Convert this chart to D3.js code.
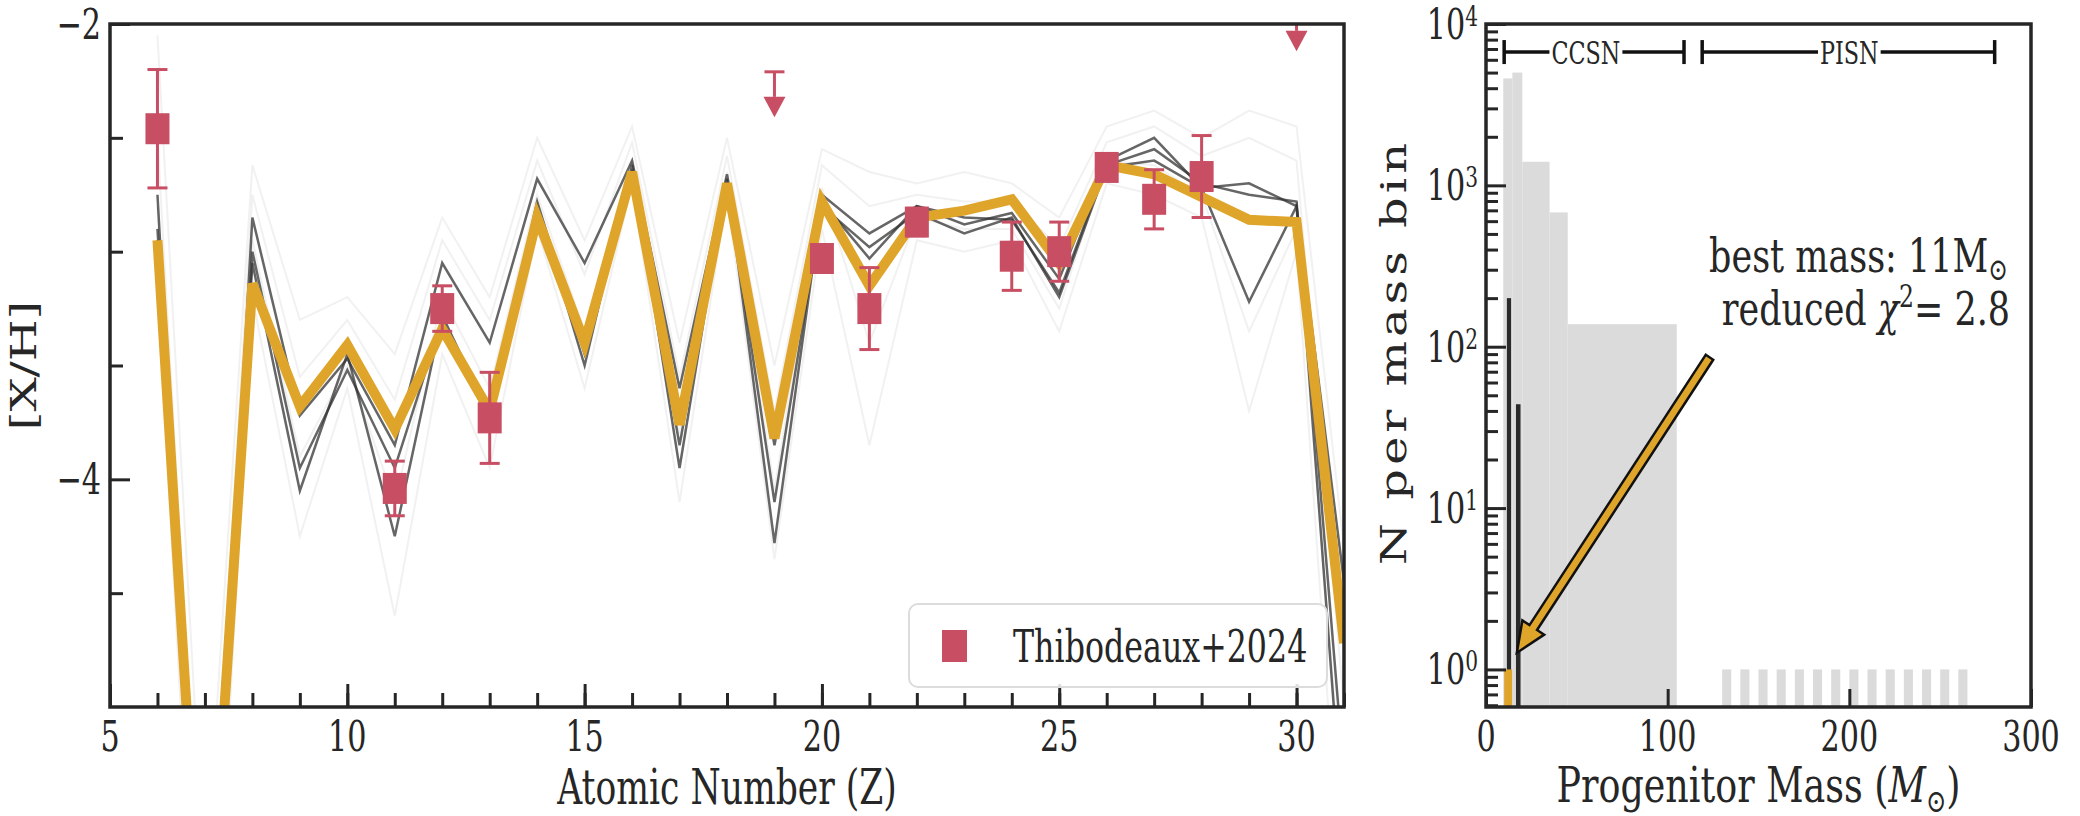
<!DOCTYPE html>
<html>
<head>
<meta charset="utf-8">
<script src="https://cdn.jsdelivr.net/npm/d3@7/dist/d3.min.js"></script>
<style>
  html, body { margin: 0; padding: 0; background: #fff; }
  svg text { font-family: 'DejaVu Serif', serif; fill: #262626; }
</style>
</head>
<body>
<svg id="chart" width="2080" height="816"></svg>
<script>
// ---- left panel: abundance pattern ----
const atomicZ = [6, 7, 8, 9, 10, 11, 12, 13, 14, 15, 16, 17, 18, 19, 20, 21, 22, 23, 24, 25, 26, 27, 28, 29, 30, 31];
const bestFit = [-2.95, -6.3, -3.14, -3.68, -3.41, -3.78, -3.34, -3.70, -2.85, -3.40, -2.65, -3.76, -2.70, -3.82, -2.78, -3.15, -2.85, -2.82, -2.77, -3.05, -2.62, -2.66, -2.76, -2.86, -2.87, -4.72];

// darker model tracks
const modelDarkA = [-2.75, -6.5, -2.85, -3.72, -3.47, -3.85, -3.05, -3.40, -2.68, -3.05, -2.60, -3.60, -2.66, -3.85, -2.75, -2.92, -2.80, -2.88, -2.83, -3.12, -2.60, -2.50, -2.72, -2.70, -2.80, -4.45];
const modelDarkB = [-2.95, -6.6, -3.00, -3.95, -3.52, -3.95, -3.30, -3.75, -2.80, -3.50, -2.62, -3.95, -2.68, -4.28, -2.78, -3.03, -2.80, -2.85, -2.86, -3.18, -2.62, -2.55, -2.70, -2.75, -2.78, -5.3];
const modelDarkC = [-2.90, -6.4, -3.05, -4.05, -3.45, -4.25, -3.28, -3.72, -2.78, -3.45, -2.64, -3.85, -2.70, -4.10, -2.80, -2.98, -2.83, -2.92, -2.85, -3.20, -2.63, -2.60, -2.72, -3.22, -2.80, -5.6];
// faint model tracks
const modelFaintHigh = [-2.05, -5.8, -2.62, -3.30, -3.20, -3.45, -2.85, -3.20, -2.50, -2.95, -2.45, -3.40, -2.50, -3.50, -2.55, -2.65, -2.70, -2.65, -2.70, -2.85, -2.45, -2.38, -2.50, -2.38, -2.45, -4.3];
const modelFaintMid1 = [-2.50, -6.2, -2.75, -3.55, -3.30, -3.65, -2.95, -3.30, -2.60, -3.10, -2.52, -3.55, -2.58, -3.70, -2.62, -2.80, -2.75, -2.78, -2.78, -2.98, -2.52, -2.45, -2.58, -2.50, -2.60, -5.0];
const modelFaintMid2 = [-2.80, -6.6, -2.95, -3.90, -3.50, -4.10, -3.20, -3.60, -2.75, -3.35, -2.60, -3.80, -2.65, -4.05, -2.72, -3.40, -2.85, -2.90, -2.90, -3.25, -2.60, -2.62, -2.75, -3.35, -2.90, -5.5];
const modelFaintLow = [-3.10, -7.0, -3.20, -4.25, -3.60, -4.60, -3.45, -3.95, -2.90, -3.60, -2.70, -4.10, -2.75, -4.35, -2.90, -3.85, -2.95, -3.00, -2.95, -3.35, -2.70, -2.75, -2.85, -3.70, -3.00, -6.0];

// Thibodeaux+2024 measurements
const obsZ = [6, 11, 12, 13, 20, 21, 22, 24, 25, 26, 27, 28];
const obsXH = [-2.46, -4.04, -3.25, -3.73, -3.03, -3.25, -2.87, -3.02, -3.00, -2.63, -2.77, -2.67];
const obsErr = [0.26, 0.12, 0.10, 0.20, 0.06, 0.18, 0.06, 0.15, 0.13, 0.02, 0.13, 0.18];
const limZ = [19, 30];
const limXH = [-2.21, -1.92];

const zTicks = [5, 10, 15, 20, 25, 30];
const xhTicks = [-2, -4];

// ---- right panel: progenitor mass histogram ----
const allMassLo = [9.5, 14.5, 20, 35, 45];
const allMassHi = [14.5, 20, 35, 45, 105];
const allMassN = [4600, 5000, 1400, 680, 138];
const pisnLo = [130, 140, 150, 160, 170, 180, 190, 200, 210, 220, 230, 240, 250, 260];
const pisnN = [1, 1, 1, 1, 1, 1, 1, 1, 1, 1, 1, 1, 1, 1];
const goodLo = [11.5, 16.5];
const goodHi = [13.8, 19];
const goodN = [200, 44];
const bestLo = [10];
const bestHi = [14.4];
const bestN = [1];
const massTicks = [0, 100, 200, 300];
const nTicks = [1, 10, 100, 1000, 10000];
const ranges = [
  { name: 'CCSN', lo: 10, hi: 109, at: 55 },
  { name: 'PISN', lo: 119, hi: 280, at: 200 }
];

const SX = 0.72;          // horizontal squeeze of the original figure
const orange = '#dfa52a';
const rose = '#c84e63';
const ink = '#262626';

const svg = d3.select('#chart');

function hText(g, x, y, anchor, size, sx = SX) {
  return g.append('text')
    .attr('transform', `translate(${x},${y}) scale(${sx},1)`)
    .attr('text-anchor', anchor)
    .style('font-size', size + 'px');
}
function vText(g, x, y, size) {
  return g.append('text')
    .attr('transform', `translate(${x},${y}) rotate(-90) scale(1,${SX})`)
    .attr('text-anchor', 'middle')
    .style('font-size', size + 'px');
}

// ================= LEFT PANEL =================
const L = { left: 110, right: 1344, top: 24, bottom: 707 };
const xL = d3.scaleLinear().domain([5, 31]).range([L.left, L.right]);
const yL = d3.scaleLinear().domain([-5, -2]).range([L.bottom, L.top]);

svg.append('clipPath').attr('id', 'clipL').append('rect')
  .attr('x', L.left).attr('y', L.top).attr('width', L.right - L.left).attr('height', L.bottom - L.top);

const gL = svg.append('g');
const plotL = gL.append('g').attr('clip-path', 'url(#clipL)');

const line = d3.line().x((d, i) => xL(atomicZ[i])).y(d => yL(d));

const faint = [modelFaintHigh, modelFaintMid1, modelFaintMid2, modelFaintLow];
faint.forEach(s => plotL.append('path').attr('d', line(s))
  .attr('fill', 'none').attr('stroke', '#999').attr('stroke-opacity', 0.14).attr('stroke-width', 2));
const dark = [modelDarkA, modelDarkB, modelDarkC];
dark.forEach(s => plotL.append('path').attr('d', line(s))
  .attr('fill', 'none').attr('stroke', '#333').attr('stroke-opacity', 0.75).attr('stroke-width', 2.5));

plotL.append('path').attr('d', line(bestFit))
  .attr('fill', 'none').attr('stroke', orange).attr('stroke-width', 10).attr('stroke-linejoin', 'miter');

// error bars + squares
const capW = 20, sqW = 24, sqH = 31;
obsZ.forEach((z, i) => {
  const cx = xL(z), y0 = yL(obsXH[i] + obsErr[i]), y1 = yL(obsXH[i] - obsErr[i]);
  const g = plotL.append('g').attr('stroke', rose).attr('stroke-width', 3);
  g.append('line').attr('x1', cx).attr('x2', cx).attr('y1', y0).attr('y2', y1);
  g.append('line').attr('x1', cx - capW / 2).attr('x2', cx + capW / 2).attr('y1', y0).attr('y2', y0);
  g.append('line').attr('x1', cx - capW / 2).attr('x2', cx + capW / 2).attr('y1', y1).attr('y2', y1);
  plotL.append('rect').attr('x', cx - sqW / 2).attr('y', yL(obsXH[i]) - sqH / 2)
    .attr('width', sqW).attr('height', sqH).attr('fill', rose);
});
// upper limits
limZ.forEach((z, i) => {
  const cx = xL(z), yc = yL(limXH[i]), yt = yL(limXH[i] - 0.11), yb = yL(limXH[i] - 0.2);
  const g = plotL.append('g').attr('stroke', rose).attr('stroke-width', 3);
  g.append('line').attr('x1', cx - capW / 2).attr('x2', cx + capW / 2).attr('y1', yc).attr('y2', yc);
  g.append('line').attr('x1', cx).attr('x2', cx).attr('y1', yc).attr('y2', yt);
  plotL.append('path').attr('d', `M${cx - 11},${yt}L${cx + 11},${yt}L${cx},${yb}Z`).attr('fill', rose);
});

// ticks (inward)
const tickStyle = sel => sel.selectAll('line').attr('stroke', ink).attr('stroke-width', 3);
gL.append('g').attr('transform', `translate(0,${L.bottom})`)
  .call(d3.axisBottom(xL).tickValues(d3.range(5, 32)).tickSize(-14).tickFormat(''))
  .call(tickStyle).select('.domain').remove();
gL.append('g').attr('transform', `translate(0,${L.bottom})`)
  .call(d3.axisBottom(xL).tickValues(zTicks).tickSize(-23).tickFormat(''))
  .call(tickStyle).select('.domain').remove();
gL.append('g').attr('transform', `translate(${L.left},0)`)
  .call(d3.axisLeft(yL).tickValues([-2.5, -3, -3.5, -4.5]).tickSize(-13).tickFormat(''))
  .call(tickStyle).select('.domain').remove();
gL.append('g').attr('transform', `translate(${L.left},0)`)
  .call(d3.axisLeft(yL).tickValues(xhTicks).tickSize(-20).tickFormat(''))
  .call(tickStyle).select('.domain').remove();

zTicks.forEach(t => hText(gL, xL(t), 751, 'middle', 42).text(t));
xhTicks.forEach(t => hText(gL, L.left - 9, yL(t) + 15, 'end', 42).text('\u2212' + Math.abs(t)));

gL.append('rect').attr('x', L.left).attr('y', L.top).attr('width', L.right - L.left).attr('height', L.bottom - L.top)
  .attr('fill', 'none').attr('stroke', ink).attr('stroke-width', 3.5);

hText(gL, (L.left + L.right) / 2, 804, 'middle', 48).text('Atomic Number (Z)');
vText(gL, 36, (L.top + L.bottom) / 2, 48).text('[X/H]');

// legend
const leg = gL.append('g');
leg.append('rect').attr('x', 909).attr('y', 604).attr('width', 418).attr('height', 83).attr('rx', 9)
  .attr('fill', '#fff').attr('fill-opacity', 0.85).attr('stroke', '#dcdcdc').attr('stroke-width', 2);
leg.append('rect').attr('x', 954 - 12).attr('y', 646 - 16).attr('width', 25).attr('height', 32).attr('fill', rose);
hText(leg, 1013, 662, 'start', 44).text('Thibodeaux+2024');

// ================= RIGHT PANEL =================
const R = { left: 1486, right: 2031, top: 24, bottom: 707 };
const xR = d3.scaleLinear().domain([0, 300]).range([R.left, R.right]);
const yR = d3.scaleLog().domain([0.585, 1e4]).range([R.bottom, R.top]);

svg.append('clipPath').attr('id', 'clipR').append('rect')
  .attr('x', R.left).attr('y', R.top).attr('width', R.right - R.left).attr('height', R.bottom - R.top);
const gR = svg.append('g');
const plotR = gR.append('g').attr('clip-path', 'url(#clipR)');

const bars = (lo, hi, n, fill) => plotR.append('g').selectAll('rect').data(n).join('rect')
  .attr('x', (d, i) => xR(lo[i])).attr('width', (d, i) => xR(hi[i]) - xR(lo[i]))
  .attr('y', d => yR(d)).attr('height', d => R.bottom - yR(d)).attr('fill', fill);

bars(allMassLo, allMassHi, allMassN, '#dbdbdb');
bars(pisnLo, pisnLo.map(v => v + 5), pisnN, '#dbdbdb');
bars(goodLo, goodHi, goodN, '#2a2a2a');
bars(bestLo, bestHi, bestN, orange);

// ticks
const logTicks = yR.ticks();
gR.append('g').attr('transform', `translate(${R.left},0)`)
  .call(d3.axisLeft(yR).tickValues(logTicks.filter(v => !nTicks.includes(v))).tickSize(-12).tickFormat(''))
  .call(tickStyle).select('.domain').remove();
gR.append('g').attr('transform', `translate(${R.left},0)`)
  .call(d3.axisLeft(yR).tickValues(nTicks).tickSize(-20).tickFormat(''))
  .call(tickStyle).select('.domain').remove();
gR.append('g').attr('transform', `translate(0,${R.bottom})`)
  .call(d3.axisBottom(xR).tickValues(massTicks).tickSize(-18).tickFormat(''))
  .call(tickStyle).select('.domain').remove();

massTicks.forEach(t => hText(gR, xR(t), 751, 'middle', 42).text(t));
nTicks.forEach(t => {
  const tx = hText(gR, R.left - 8, yR(t) + 15, 'end', 42);
  tx.append('tspan').text('10');
  tx.append('tspan').attr('dy', -13).style('font-size', '28px').text(Math.round(Math.log10(t)));
});

gR.append('rect').attr('x', R.left).attr('y', R.top).attr('width', R.right - R.left).attr('height', R.bottom - R.top)
  .attr('fill', 'none').attr('stroke', ink).attr('stroke-width', 3.5);

// x label
const xlab = hText(gR, (R.left + R.right) / 2, 802, 'middle', 48, 0.76);
xlab.append('tspan').text('Progenitor Mass (');
xlab.append('tspan').style('font-style', 'italic').text('M');
xlab.append('tspan').attr('dy', 10).style('font-size', '32px').text('\u2299');
xlab.append('tspan').attr('dy', -10).text(')');
vText(gR, 1406, 352, 48).style('letter-spacing', '4px').text('N per mass bin');

// range brackets
const bracketN = 6700;
ranges.forEach(r => {
  const yb = yR(bracketN), x0 = xR(r.lo), x1 = xR(r.hi), xc = xR(r.at);
  const lab = hText(gR, xc, yb + 12, 'middle', 31).text(r.name);
  const half = lab.node().getComputedTextLength() * SX / 2 + 2;
  const g = gR.append('g').attr('stroke', '#111').attr('stroke-width', 3.5);
  g.append('line').attr('x1', x0).attr('x2', xc - half).attr('y1', yb).attr('y2', yb);
  g.append('line').attr('x1', xc + half).attr('x2', x1).attr('y1', yb).attr('y2', yb);
  g.append('line').attr('x1', x0).attr('x2', x0).attr('y1', yb - 12).attr('y2', yb + 12);
  g.append('line').attr('x1', x1).attr('x2', x1).attr('y1', yb - 12).attr('y2', yb + 12);
});

// annotation arrow
const arrowFrom = [123, 86], arrowTo = [17, 1.27];
{
  const T = [xR(arrowFrom[0]), yR(arrowFrom[1])], P = [xR(arrowTo[0]), yR(arrowTo[1])];
  const len = Math.hypot(P[0] - T[0], P[1] - T[1]);
  const u = [(P[0] - T[0]) / len, (P[1] - T[1]) / len], n = [-u[1], u[0]];
  const w = 4.5, hw = 13, hl = 30;
  const B = [P[0] - u[0] * hl, P[1] - u[1] * hl];
  const pt = (p, k) => [p[0] + n[0] * k, p[1] + n[1] * k];
  const pts = [pt(T, w), pt(B, w), pt(B, hw), P, pt(B, -hw), pt(B, -w), pt(T, -w)];
  gR.append('path').attr('d', 'M' + pts.map(p => p.join(',')).join('L') + 'Z')
    .attr('fill', orange).attr('stroke', '#111').attr('stroke-width', 2.5).attr('stroke-linejoin', 'miter');
}

const a1 = hText(gR, 2008, 272, 'end', 46, 0.76);
a1.append('tspan').text('best mass: 11M');
a1.append('tspan').attr('dy', 8).style('font-size', '31px').text('\u2299');
const a2 = hText(gR, 2010, 325, 'end', 46, 0.76);
a2.append('tspan').text('reduced ');
a2.append('tspan').style('font-style', 'italic').text('\u03c7');
a2.append('tspan').attr('dy', -18).style('font-size', '31px').text('2');
a2.append('tspan').attr('dy', 18).text('= 2.8');
</script>
</body>
</html>
